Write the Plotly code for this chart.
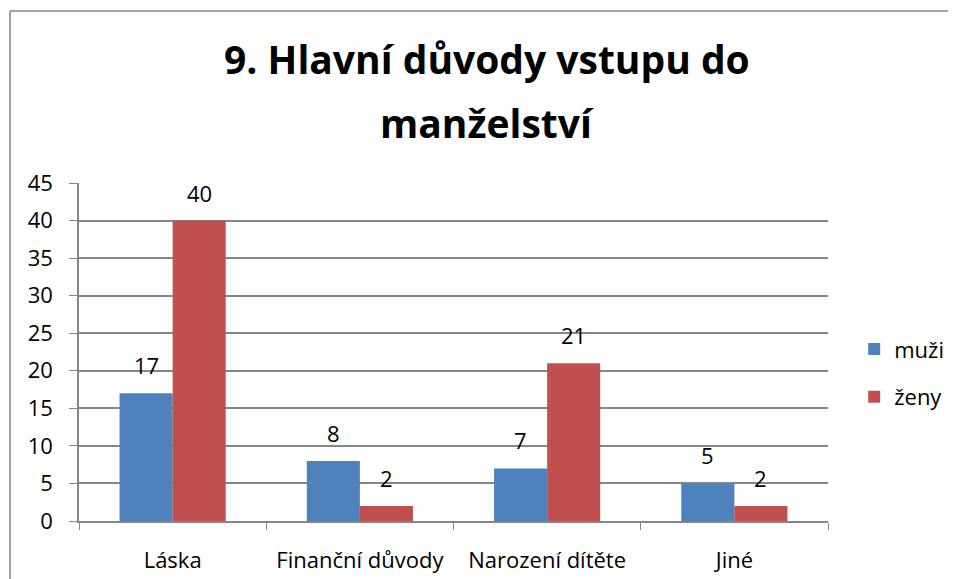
import plotly.graph_objects as go

categories = ["Láska", "Finanční důvody", "Narození dítěte", "Jiné"]
muzi = [17, 8, 7, 5]
zeny = [40, 2, 21, 2]
series_names = ["muži", "ženy"]
colors = ["#4F81BD", "#C0504D"]
title_lines = ["9. Hlavní důvody vstupu do", "manželství"]

FONT = "Open Sans"
fig = go.Figure()
for i, (name, vals) in enumerate(zip(series_names, [muzi, zeny])):
    fig.add_trace(go.Bar(
        x=categories, y=vals, name=name, marker_color=colors[i],
        marker_line_width=0, legendgroup=name,
    ))

annotations = []
for i, vals in enumerate([muzi, zeny]):
    shift = -26.5 if i == 0 else 26.5
    for c, v in zip(categories, vals):
        annotations.append(dict(
            x=c, y=v, xref="x", yref="y", text=str(v), showarrow=False,
            xshift=shift, yshift=11, yanchor="bottom",
            font=dict(family=FONT, size=22, color="#000000"),
        ))
title_py = [59, 122]
for line, py in zip(title_lines, title_py):
    annotations.append(dict(
        x=(487 - 79) / 749, y=(521 - py) / 338, xref="paper", yref="paper",
        text="<b>" + line + "</b>", showarrow=False, xanchor="center", yanchor="middle",
        font=dict(family=FONT, size=39, color="#000000"),
    ))

frame_color = "#868686"
fig.update_layout(
    width=948, height=571,
    margin=dict(l=71, r=128, t=175, b=58, autoexpand=False),
    paper_bgcolor="white", plot_bgcolor="white",
    barmode="group", bargap=0.433, bargroupgap=0,
    font=dict(family=FONT, size=22, color="#000000"),
    annotations=annotations,
    showlegend=True,
    legend=dict(
        x=1.035, y=0.437, xanchor="left", yanchor="middle",
        font=dict(family=FONT, size=22), tracegroupgap=16,
        itemwidth=30,
    ),
    shapes=[
        dict(type="line", xref="paper", yref="paper",
             x0=(10 - 79) / 749, x1=1.3, y0=(521 - 11) / 338, y1=(521 - 11) / 338,
             line=dict(color=frame_color, width=1.5)),
        dict(type="line", xref="paper", yref="paper",
             x0=(10 - 79) / 749, x1=(10 - 79) / 749, y0=(521 - 11) / 338, y1=-0.3,
             line=dict(color=frame_color, width=1.5)),
    ],
)
fig.update_xaxes(
    showline=True, linecolor="#868686", linewidth=1.5, automargin=False,
    ticks="outside", ticklen=7, tickcolor="#868686", tickson="boundaries",
    ticklabelstandoff=19, tickfont=dict(family=FONT, size=22),
    showgrid=False,
)
fig.update_yaxes(
    range=[0, 45], dtick=5, tick0=0, automargin=False,
    showline=True, linecolor="#868686", linewidth=1.5,
    ticks="outside", ticklen=8, tickcolor="#868686",
    ticklabelstandoff=12, tickfont=dict(family=FONT, size=22),
    showgrid=True, gridcolor="#868686", gridwidth=1.5,
    zeroline=False,
)
fig.write_html("out.html")
